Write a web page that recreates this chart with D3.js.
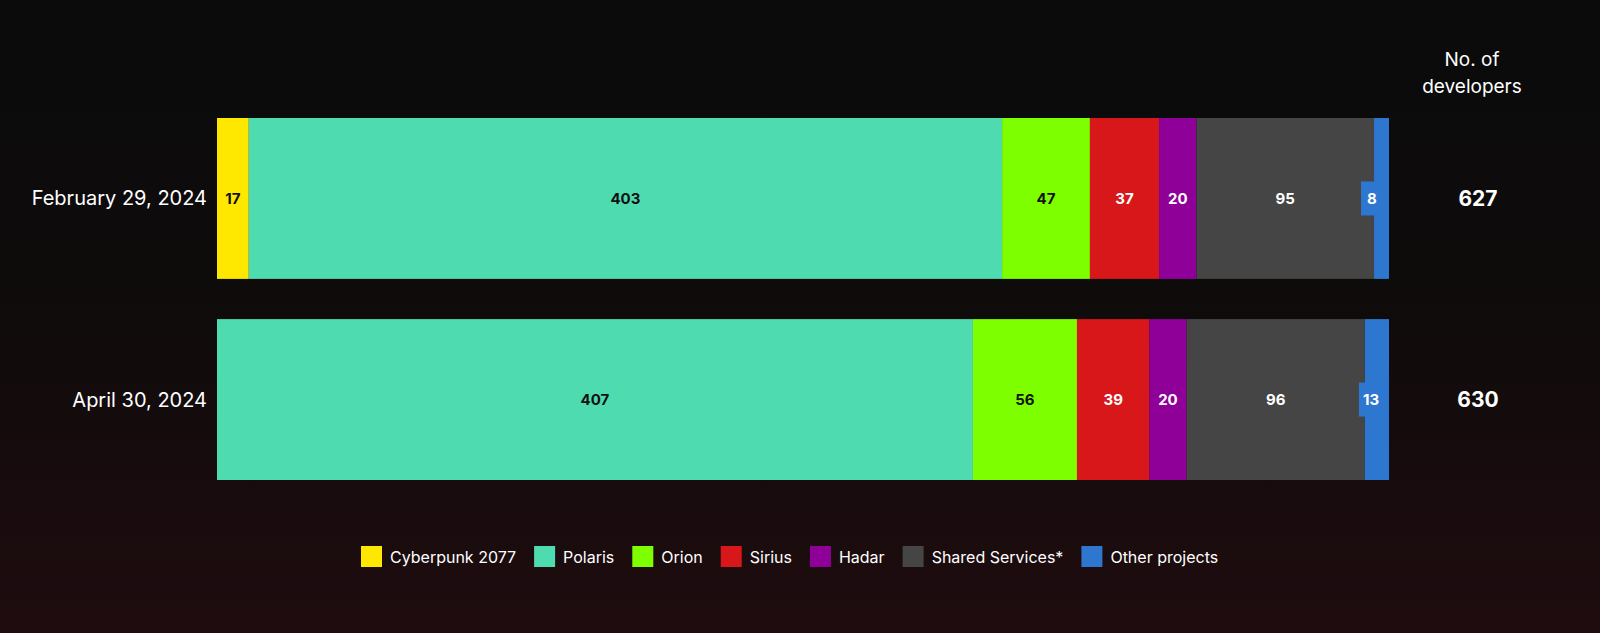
<!DOCTYPE html>
<html><head><meta charset="utf-8">
<script src="https://cdn.jsdelivr.net/npm/d3@7"></script>
<style>
html,body{margin:0;padding:0;background:#0b0b0b;}
svg{display:block;font-family:"Inter","Open Sans",sans-serif;}
</style></head>
<body><svg id="c" width="1600" height="633"></svg>
<script>
const dates = ["February 29, 2024", "April 30, 2024"];
const series = ["Cyberpunk 2077","Polaris","Orion","Sirius","Hadar","Shared Services*","Other projects"];
const colors = ["#ffe800","#4fdbb0","#7dff00","#d8171a","#8e0097","#454545","#2e77d0"];
const labelColors = ["#111","#111","#111","#fff","#fff","#fff","#fff"];
const values = [
  [17,403,47,37,20,95,8],
  [0,407,56,39,20,96,13]
];
const totals = [627,630];

const svg = d3.select("#c");
const defs = svg.append("defs");
const g = defs.append("linearGradient").attr("id","bg").attr("x1",0).attr("y1",0).attr("x2",0).attr("y2",1);
g.append("stop").attr("offset","0%").attr("stop-color","#0b0b0b");
g.append("stop").attr("offset","45%").attr("stop-color","#0e0b0b");
g.append("stop").attr("offset","100%").attr("stop-color","#1f0c0f");
svg.append("rect").attr("width",1600).attr("height",633).attr("fill","url(#bg)");

const y = d3.scaleBand().domain(dates).range([118,480]).paddingInner(0.2).paddingOuter(0.0);
const x = d3.scaleLinear().range([217,1389]);

dates.forEach((d,i)=>{
  const tot = d3.sum(values[i]);
  x.domain([0,tot]);
  let acc=0;
  const yy=y(d), h=y.bandwidth();
  values[i].forEach((v,j)=>{
    const x0=x(acc), x1=x(acc+v); acc+=v;
    if(v<=0) return;
    svg.append("rect").attr("x",x0).attr("y",yy).attr("width",x1-x0).attr("height",h).attr("fill",colors[j]);
  });
  acc=0;
  values[i].forEach((v,j)=>{
    const x0=x(acc), x1=x(acc+v); acc+=v;
    if(v<=0) return;
    let cx=(x0+x1)/2;
    if(x1-x0<28){
      const bw = String(v).length>1?24:22;
      cx = x1-6-bw/2;
      svg.append("rect").attr("x",cx-bw/2).attr("y",yy+h/2-17).attr("width",bw).attr("height",34).attr("fill",colors[j]);
    }
    svg.append("text").attr("x",cx).attr("y",yy+h/2).attr("dy","0.35em").attr("text-anchor","middle")
      .attr("font-size",15).attr("font-weight",700).attr("fill",labelColors[j]).text(v);
  });
  svg.append("text").attr("x",207).attr("y",yy+h/2).attr("dy","0.35em").attr("text-anchor","end")
    .attr("font-size",20).attr("fill","#fff").text(d);
  svg.append("text").attr("x",1478).attr("y",yy+h/2).attr("dy","0.35em").attr("text-anchor","middle")
    .attr("font-size",21).attr("font-weight",700).attr("fill","#fff").text(totals[i]);
});
svg.append("text").attr("x",1472).attr("y",66).attr("text-anchor","middle").attr("font-size",19).attr("fill","#fff").text("No. of");
svg.append("text").attr("x",1472).attr("y",93).attr("text-anchor","middle").attr("font-size",19).attr("fill","#fff").text("developers");

// legend
const lg = svg.append("g");
let lx = 361;
series.forEach((s,j)=>{
  lg.append("rect").attr("x",lx).attr("y",546).attr("width",21).attr("height",21).attr("fill",colors[j]);
  const t = lg.append("text").attr("x",lx+29).attr("y",557).attr("dy","0.35em").attr("font-size",16).attr("fill","#fff").text(s);
  lx += 29 + t.node().getComputedTextLength() + 18;
});
</script></body></html>
